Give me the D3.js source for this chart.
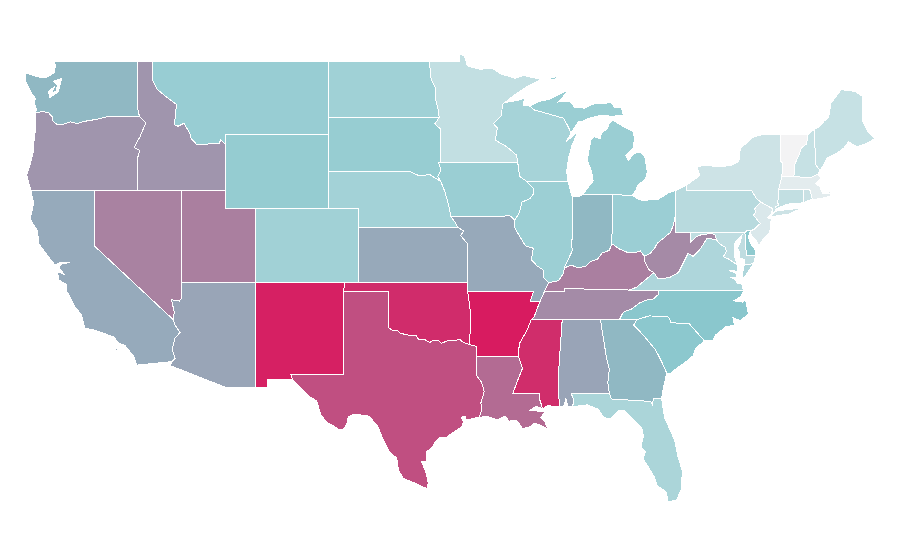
<!DOCTYPE html>
<html>
<head>
<meta charset="utf-8">
<script src="https://cdn.jsdelivr.net/npm/d3@7"></script>
<style>html,body{margin:0;padding:0;background:#fff}svg{display:block}</style>
</head>
<body>
<svg id="map" width="900" height="560"></svg>
<script>
// state values (low = pale, middle = teal, high = crimson)
const stateCodes = ["WA","OR","CA","NV","ID","MT","UT","WY","AZ","CO","NM","ND","SD","NE","KS","OK","TX","MN","IA","MO","AR","LA","MS","AL","GA","FL","SC","NC","TN","KY","VA","WV","OH","IN","IL","WI","MI","PA","NJ","DE","MD","NY","CT","RI","MA","VT","NH","ME"];
const stateValues = [54.4,64.5,58.4,70,64.5,42.9,71,44.3,60,38.7,98.5,39,43.4,37.7,58.7,95,85,23,42,58.7,100,76.7,94.8,60.2,54.4,34,48.6,49.5,67.4,70.8,32.5,67.7,41.5,54.4,41,36.3,42,28,12,47,24.5,18,23,20,7.5,0,21,21];
const colorStops = [0,50,100];
const colorRange = ["#f3f3f4","#89c7cd","#d81b60"];

// shared borders, as "lon,lat" lists
const borders = {
wa_coast:"-122.76,49 -122.62,48.75 -122.72,48.35 -123.25,48.12 -123.7,48.12 -124.7,48.36 -124.65,47.9 -124.25,47.25 -124.0,46.98 -124.05,46.7 -123.9,46.35 -124,46.2",
wa_n:"-122.76,49 -117.04,49",
wa_id:"-117.04,49 -117.04,46.4 -116.92,46",
wa_or:"-124,46.2 -123.5,46.26 -123.1,46.2 -122.86,46 -122.8,45.75 -122.55,45.58 -122.1,45.57 -121.6,45.7 -121.15,45.62 -120.6,45.74 -120,45.82 -119.4,45.92 -119.05,46 -116.92,46",
or_coast:"-124,46.2 -123.95,45.5 -124.07,44.8 -124.15,44 -124.35,43.4 -124.58,42.83 -124.3,42",
or_ca:"-124.3,42 -120,42",
or_nv:"-120,42 -117.03,42",
or_id:"-116.92,46 -116.48,45.65 -116.7,45.25 -116.88,44.9 -117.2,44.45 -117.27,44.3 -116.95,44.2 -116.93,44.05 -117.03,43.8 -117.03,42",
ca_coast:"-124.3,42 -124.1,41.3 -124.35,40.45 -123.85,39.8 -123.75,39.1 -123.1,38.4 -122.65,37.95 -122.3,38.1 -121.65,38.1 -122.2,38.0 -122.4,37.85 -122.05,37.45 -122.5,37.6 -122.4,37.15 -121.9,36.9 -121.9,36.6 -121.3,35.7 -120.85,35.25 -120.65,34.55 -120.1,34.45 -119.3,34.25 -118.6,34.03 -118.4,33.75 -117.9,33.6 -117.3,33 -117.12,32.53",
ca_s:"-117.12,32.53 -114.73,32.72",
ca_nv:"-120,42 -120,39 -114.63,35",
ca_az:"-114.63,35 -114.5,34.7 -114.16,34.3 -114.5,34 -114.7,33.4 -114.5,32.9 -114.73,32.72",
nv_id:"-117.03,42 -114.04,42",
nv_ut:"-114.04,42 -114.04,37",
nv_az:"-114.04,37 -114.04,36.2 -114.2,36 -114.75,36.08 -114.55,35.4 -114.63,35",
id_ut:"-114.04,42 -111.05,42",
id_wy:"-111.05,44.48 -111.05,42",
id_mt:"-116.05,49 -116.05,48 -115.7,47.45 -115.0,47 -114.4,46.65 -114.5,45.9 -114.55,45.56 -114.3,45.47 -113.9,45.63 -113.5,45.1 -113.4,44.8 -113.0,44.45 -112.35,44.5 -111.5,44.55 -111.4,44.72 -111.05,44.48",
id_n:"-117.04,49 -116.05,49",
mt_n:"-116.05,49 -104.05,49",
mt_wy:"-111.05,44.48 -111.05,45 -104.05,45",
mt_nd:"-104.05,49 -104.05,45.94",
mt_sd:"-104.05,45.94 -104.05,45",
ut_wy:"-111.05,42 -111.05,41 -109.05,41",
ut_co:"-109.05,41 -109.05,37",
ut_az:"-114.04,37 -109.05,37",
wy_co:"-109.05,41 -104.05,41",
wy_sd:"-104.05,45 -104.05,43",
wy_ne:"-104.05,43 -104.05,41",
co_ne:"-104.05,41 -102.05,41 -102.05,40",
co_ks:"-102.05,40 -102.05,37",
co_ok:"-102.05,37 -103,37",
co_nm:"-103,37 -109.05,37",
az_nm:"-109.05,37 -109.05,31.33",
az_s:"-114.73,32.72 -114.8,32.5 -111.07,31.33 -109.05,31.33",
nm_s:"-109.05,31.33 -108.21,31.33 -108.21,31.78 -106.53,31.78",
nm_tx:"-106.53,31.78 -106.62,32 -103.06,32 -103.04,36.5",
nm_ok:"-103.04,36.5 -103,37",
tx_ok:"-103.04,36.5 -100,36.5 -100,34.56 -99.7,34.4 -99.4,34.42 -99.2,34.27 -98.9,34.2 -98.6,34.15 -98.3,34.13 -98.1,34.13 -97.95,33.9 -97.5,33.9 -97.2,33.75 -97.0,33.87 -96.6,33.85 -96.4,33.72 -96.0,33.85 -95.5,33.87 -95.15,33.92 -94.9,33.75 -94.48,33.64",
tx_ar:"-94.48,33.64 -94.04,33.55 -94.04,33.02",
tx_la:"-94.04,33.02 -94.04,32 -93.67,31.6 -93.5,31.1 -93.72,30.5 -93.7,30.05 -93.85,29.7",
tx_rio:"-106.53,31.78 -106.2,31.47 -105.4,30.85 -104.88,30.6 -104.6,29.85 -104.2,29.45 -103.8,29.27 -103.3,29.02 -103.1,29.05 -102.85,29.3 -102.73,29.74 -102.3,29.88 -101.37,29.78 -100.9,29.4 -100.69,29.15 -100.35,28.48 -99.9,27.8 -99.44,27.5 -99.33,26.85 -99,26.4 -98.08,26.1 -97.4,25.85 -97.3,26.15 -97.42,26.6 -97.52,26.85 -97.75,27.3 -97.4,27.35 -97.4,27.85 -97,28.1 -96.8,28.4 -96.5,28.62 -96.1,28.6 -95.85,28.75 -95.03,29.2 -94.92,29.47 -95.05,29.72 -94.8,29.75 -94.7,29.55 -94.1,29.68 -93.85,29.7",
ks_ok:"-102.05,37 -94.62,37",
ks_ne:"-102.05,40 -95.31,40",
ks_mo:"-95.31,40 -94.88,39.8 -95.1,39.55 -94.9,39.35 -94.6,39.1 -94.62,37",
ne_sd:"-104.05,43 -98.5,43 -97.9,42.78 -97.2,42.85 -96.7,42.6 -96.45,42.49",
ne_ia:"-96.45,42.49 -96.16,41.9 -95.95,41.3 -95.84,40.9 -95.77,40.58",
ne_mo:"-95.77,40.58 -95.45,40.25 -95.31,40",
nd_sd:"-104.05,45.94 -96.56,45.94",
nd_n:"-104.05,49 -97.23,49",
nd_mn:"-97.23,49 -97.1,48 -96.84,47.6 -96.8,46.9 -96.6,46.3 -96.56,45.94",
sd_mn:"-96.56,45.94 -96.85,45.6 -96.45,45.3 -96.45,43.5",
sd_ia:"-96.45,43.5 -96.6,43.5 -96.45,43.1 -96.65,42.75 -96.45,42.49",
mn_ia:"-96.45,43.5 -91.22,43.5",
mn_wi:"-91.22,43.5 -91.3,43.9 -91.97,44.36 -92.75,44.72 -92.6,45.37 -92.88,45.62 -92.3,46.08 -92.28,46.65 -92.1,46.75",
mn_coast:"-97.23,49 -95.15,49 -95.15,49.36 -94.85,49.3 -94.65,48.74 -93.8,48.55 -92.95,48.62 -92.4,48.3 -91.4,48.07 -90.85,48.22 -89.6,48 -90.4,47.7 -91.3,47.25 -92.1,46.75",
ia_wi:"-91.22,43.5 -91.1,42.75 -90.64,42.5",
ia_il:"-90.64,42.5 -90.15,42.1 -90.15,41.8 -90.4,41.55 -90.95,41.35 -91.1,40.8 -91.42,40.38",
ia_mo:"-95.77,40.58 -91.73,40.61 -91.42,40.38",
mo_il:"-91.42,40.38 -91.45,40 -91.07,39.49 -90.7,39 -90.16,38.86 -90.3,38.25 -89.9,37.9 -89.48,37.68 -89.5,37.3 -89.13,37",
mo_ky:"-89.13,37 -89.42,36.5",
mo_tn:"-89.42,36.5 -89.7,36",
mo_ar:"-89.7,36 -90.37,36 -90.15,36.5 -94.62,36.5",
mo_ok:"-94.62,37 -94.62,36.5",
ok_ar:"-94.62,36.5 -94.43,35.4 -94.48,33.64",
ar_la:"-94.04,33.02 -91.17,33",
ar_ms:"-90.3,35 -90.6,34.4 -91.07,33.75 -91.18,33.3 -91.17,33",
ar_tn:"-89.7,36 -89.95,35.5 -90.1,35.15 -90.3,35",
la_ms:"-91.17,33 -90.9,32.36 -91.3,31.56 -91.55,31 -89.73,31 -89.72,30.65 -89.53,30.18",
la_coast:"-93.85,29.7 -93.3,29.76 -92.6,29.56 -92.1,29.77 -91.8,29.5 -91.3,29.56 -90.9,29.1 -90.4,29.2 -90.05,29.4 -89.6,29.25 -89.15,29.05 -89.4,29.5 -89.65,29.7 -89.4,30 -89.9,30.05 -90.4,30.1 -89.95,30.3 -89.53,30.18",
ms_tn:"-90.3,35 -88.2,35",
tn_al:"-88.2,35 -85.6,34.98",
tn_ga:"-85.6,34.98 -84.32,34.99",
ms_al:"-88.2,35 -88.47,31.9 -88.4,30.3",
ms_coast:"-89.53,30.18 -89.2,30.33 -88.4,30.3",
al_coast:"-88.4,30.3 -88.1,30.3 -87.95,30.72 -87.8,30.3 -87.5,30.28",
al_fl:"-87.5,30.28 -87.4,30.65 -87.6,31 -85,31",
al_ga:"-85.6,34.98 -85.18,32.87 -85,32.3 -85.1,31.6 -85,31",
ga_fl:"-85,31 -84.86,30.7 -82.2,30.57 -82.05,30.36 -82.02,30.75 -81.45,30.72",
fl_coast:"-87.5,30.28 -86.5,30.38 -85.75,30.15 -85.35,29.68 -84.9,29.65 -84.35,30.08 -83.95,30.08 -83.4,29.6 -82.8,29.15 -82.68,28.7 -82.85,28.1 -82.55,27.85 -82.7,27.45 -82.3,26.95 -81.95,26.5 -81.75,26 -81.1,25.65 -81.05,25.15 -80.45,25.2 -80.12,25.8 -80.03,26.8 -80.35,27.6 -80.55,28.45 -81.25,29.7 -81.45,30.72",
ga_coast:"-81.1,32.1 -81.3,31.4 -81.45,30.72",
ga_sc:"-83.11,35 -83.35,34.7 -82.7,34.17 -81.85,33.35 -81.4,32.65 -81.1,32.1",
ga_nc:"-84.32,34.99 -83.11,35",
nc_tn:"-84.32,34.99 -84.05,35.4 -83.5,35.57 -82.95,35.9 -82.45,36.06 -82,36.12 -81.68,36.35 -81.68,36.59",
nc_sc:"-78.55,33.86 -79.6,34.8 -80.8,34.82 -80.95,35.1 -81.05,35.15 -82.3,35.2 -83.11,35",
sc_coast:"-78.55,33.86 -79.15,33.4 -79.3,33.05 -79.9,32.65 -80.45,32.35 -80.9,32.05 -81.1,32.1",
nc_coast:"-75.87,36.55 -76.05,36.25 -76.55,36.02 -75.95,35.95 -75.75,36.1 -75.55,35.3 -76.1,34.95 -76.6,35.1 -76.5,34.7 -77.1,34.6 -77.8,34.15 -77.95,33.87 -78.55,33.86",
nc_va:"-81.68,36.59 -75.87,36.55",
tn_va:"-81.68,36.59 -83.67,36.6",
tn_ky:"-83.67,36.6 -88.07,36.68 -88.07,36.5 -89.42,36.5",
ky_va:"-83.67,36.6 -83.15,36.75 -82.7,37.05 -81.97,37.54",
ky_wv:"-82.6,38.42 -82.6,38.15 -82.3,37.7 -81.97,37.54",
ky_oh:"-84.82,39.1 -84.3,38.82 -83.8,38.65 -83.3,38.62 -82.9,38.72 -82.6,38.42",
ky_in:"-88.05,37.8 -87.6,37.95 -87.1,37.8 -86.6,37.9 -86.3,38.13 -85.8,38.27 -85.5,38.6 -85,38.75 -84.82,39.1",
ky_il:"-89.13,37 -88.45,37.1 -88.12,37.5 -88.05,37.8",
il_in:"-87.53,41.7 -87.53,39.35 -87.6,39.1 -87.5,38.75 -87.95,38 -88.05,37.8",
il_wi:"-90.64,42.5 -87.8,42.5",
il_coast:"-87.8,42.5 -87.6,41.85 -87.53,41.7",
wi_mi:"-90.42,46.57 -90.1,46.35 -89.1,46.13 -88.1,45.9 -87.8,45.45 -87.6,45.1",
wi_sup:"-92.1,46.75 -91.2,46.87 -90.75,47 -90.85,46.6 -90.42,46.57",
wi_lake:"-87.6,45.1 -87.95,44.6 -87.1,45.25 -87.55,44.4 -87.75,43.8 -87.9,43 -87.8,42.5",
in_lake:"-87.53,41.7 -87.1,41.65 -86.8,41.76",
in_mi:"-86.8,41.76 -84.8,41.76",
in_oh:"-84.8,41.76 -84.82,39.1",
oh_mi:"-84.8,41.76 -83.45,41.73",
oh_lake:"-83.45,41.73 -83,41.5 -82.7,41.45 -82,41.5 -81.7,41.5 -81,41.85 -80.52,41.98",
oh_pa:"-80.52,41.98 -80.52,40.64",
oh_wv:"-80.52,40.64 -80.65,40.1 -80.85,39.72 -81.4,39.35 -81.74,39.14 -81.9,38.9 -82.2,38.6 -82.6,38.42",
pa_wv:"-80.52,40.64 -80.52,39.72 -79.48,39.72",
pa_md:"-79.48,39.72 -75.79,39.72",
pa_de:"-75.79,39.72 -75.6,39.84 -75.42,39.8",
pa_nj:"-75.42,39.8 -75.13,39.9 -74.75,40.2 -75.2,40.65 -75.05,40.85 -75.13,41 -74.7,41.36",
pa_ny:"-74.7,41.36 -75,41.55 -75.35,42 -79.76,42 -79.76,42.27",
pa_lake:"-79.76,42.27 -80.52,41.98",
wv_md:"-79.48,39.72 -79.48,39.2 -79.1,39.47 -78.75,39.6 -78.4,39.62 -78.2,39.68 -77.83,39.6 -77.72,39.32",
wv_va:"-77.72,39.32 -78.35,39.4 -78.87,38.77 -79.3,38.42 -79.65,38.58 -80.3,37.55 -80.85,37.3 -81.3,37.23 -81.68,37.2 -81.97,37.54",
va_md:"-77.72,39.32 -77.5,39.1 -77.1,38.9 -77.05,38.7 -77.25,38.4 -76.9,38.28 -76.3,37.95",
va_coast:"-75.87,36.55 -76,36.92 -76.3,36.95 -76.45,37.15 -76.75,37.3 -76.35,37.25 -76.35,37.5 -76.85,37.65 -76.3,37.62 -76.3,37.95",
md_de:"-75.79,39.72 -75.69,38.46 -75.05,38.45",
md_rest:"-75.05,38.45 -75.2,38.03 -75.62,37.98 -75.85,37.95 -75.85,38.25 -76.2,38.35 -76.12,38.6 -76.3,38.85 -76.1,39.2 -76,39.55 -76.45,39.2 -76.5,38.85 -76.5,38.45 -76.35,38.1 -76.3,37.95",
de_coast:"-75.42,39.8 -75.55,39.5 -75.4,39.1 -75.1,38.8 -75.05,38.45",
nj_coast:"-75.42,39.8 -75.35,39.55 -75,39.25 -74.85,39 -74.6,39.3 -74.1,39.75 -74,40.45 -74.25,40.5 -74,40.72 -73.9,41",
nj_ny:"-74.7,41.36 -73.9,41",
ny_city:"-73.9,41 -73.95,40.75 -73.8,40.8 -73.65,41",
ct_ny:"-73.65,41 -73.73,41.1 -73.48,41.21 -73.55,41.3 -73.5,42.05",
ma_ny:"-73.5,42.05 -73.27,42.75",
vt_ny:"-73.27,42.75 -73.25,43.5 -73.4,43.6 -73.35,44.5 -73.34,45.01",
ny_n:"-73.34,45.01 -74.7,45 -75.3,44.85 -76.1,44.25 -76.2,43.55 -76.7,43.35 -77.6,43.27 -78.5,43.37 -79.05,43.27 -78.85,42.8 -79.76,42.27",
ct_ma:"-73.5,42.05 -72.8,42.03 -71.8,42.02",
ct_ri:"-71.8,42.02 -71.79,41.6 -71.85,41.32",
ct_coast:"-71.85,41.32 -72.9,41.25 -73.65,41",
ri_ma:"-71.8,42.02 -71.38,42.02 -71.33,41.9 -71.2,41.5",
ri_coast:"-71.2,41.5 -71.45,41.45 -71.85,41.32",
ma_coast:"-71.2,41.5 -70.65,41.55 -70,41.67 -69.95,41.85 -70.2,42.08 -70.05,41.8 -70.5,41.8 -70.7,42.2 -71,42.35 -70.6,42.65 -70.82,42.87",
ma_nh:"-70.82,42.87 -71.3,42.7 -72.46,42.73",
ma_vt:"-72.46,42.73 -73.27,42.75",
vt_nh:"-72.46,42.73 -72.4,43.4 -72.1,43.95 -71.95,44.3 -71.6,44.5 -71.5,45.01",
vt_n:"-71.5,45.01 -73.34,45.01",
nh_coast:"-70.82,42.87 -70.7,43.07",
nh_me:"-70.7,43.07 -70.98,43.4 -71.08,45.3",
nh_n:"-71.08,45.3 -71.5,45.01",
me_rest:"-70.7,43.07 -70.45,43.35 -70.22,43.75 -69.55,44 -69.05,44.3 -68.75,44.63 -68.2,44.36 -67.6,44.5 -66.95,44.8 -67.45,45.2 -67.78,45.7 -67.78,47.07 -68.3,47.35 -69.05,47.43 -69.25,47.45 -69.95,46.7 -70.1,45.95 -70.4,45.75 -70.8,45.4 -71.08,45.3",
up_coast:"-90.42,46.57 -89.8,46.8 -89,46.95 -88.5,47.15 -87.78,47.45 -88.2,47.0 -88.45,46.78 -87.7,46.82 -87.33,46.48 -86.7,46.45 -86.1,46.67 -85.2,46.72 -84.9,46.75 -84.6,46.47 -84.2,46.5 -84.05,46.08 -84.85,46.0 -85.5,46.08 -86.3,45.92 -86.9,45.72 -87.1,45.7 -87.6,45.1",
mi_lp:"-83.45,41.73 -83.15,42.05 -83.1,42.25 -82.55,42.6 -82.42,43 -82.6,43.85 -82.95,44.07 -83.3,44 -83.7,43.62 -83.9,43.9 -83.35,44.3 -83.3,44.85 -83.4,45.2 -84.1,45.48 -84.75,45.78 -85.05,45.6 -85.1,45.35 -85.55,45.1 -85.6,44.8 -86.05,44.9 -86.25,44.7 -86.5,43.65 -86.2,43 -86.1,42.5 -86.5,42.1 -86.8,41.76"
};
// detached pieces and inner waters
const islandsMI = ["-89.25,48.0 -88.45,48.2 -88.7,47.97"];
const islandsNY = ["-74,40.6 -73.75,40.6 -72.75,40.72 -71.9,41.05 -72.6,40.98 -73.2,40.93 -73.7,40.87 -74,40.6"];
const islandsVA = ["-75.97,37.15 -75.65,37.5 -75.2,38.03 -75.62,37.98 -75.85,37.95 -75.95,37.5 -75.97,37.15"];
const islandsCA = ["-120.2,34.02 -119.95,34.06 -119.95,33.95", "-118.6,33.45 -118.35,33.4 -118.5,33.32"];
const pugetSound = "-122.2,48.06 -122.32,47.7 -122.43,47.34 -122.75,47.15 -123,47.03 -123.1,47.34 -122.68,47.62 -122.85,47.3 -122.55,47.35 -122.5,47.72 -122.78,47.9 -122.2,48.06";

// rings of every state, built from the shared borders ("-" walks one backwards)
const stateRings = {
WA:"wa_n wa_id -wa_or -wa_coast",
OR:"wa_or or_id -or_nv -or_ca -or_coast",
CA:"or_ca ca_nv ca_az -ca_s -ca_coast",
NV:"or_nv nv_id nv_ut nv_az -ca_nv",
ID:"id_n id_mt id_wy -id_ut -nv_id -or_id -wa_id",
MT:"mt_n mt_nd mt_sd -mt_wy -id_mt",
UT:"id_ut ut_wy ut_co -ut_az -nv_ut",
WY:"mt_wy wy_sd wy_ne -wy_co -ut_wy -id_wy",
AZ:"ut_az az_nm -az_s -ca_az -nv_az",
CO:"wy_co co_ne co_ks co_ok co_nm -ut_co",
NM:"-co_nm -nm_ok -nm_tx -nm_s -az_nm",
ND:"nd_n nd_mn -nd_sd -mt_nd",
SD:"nd_sd sd_mn sd_ia -ne_sd -wy_sd -mt_sd",
NE:"ne_sd ne_ia ne_mo -ks_ne -co_ne -wy_ne",
KS:"ks_ne ks_mo -ks_ok -co_ks",
OK:"-co_ok ks_ok mo_ok ok_ar -tx_ok nm_ok",
TX:"tx_rio -tx_la -tx_ar -tx_ok -nm_tx",
MN:"mn_coast -mn_wi -mn_ia -sd_mn -nd_mn",
IA:"mn_ia ia_wi ia_il -ia_mo -ne_ia -sd_ia",
MO:"ia_mo mo_il mo_ky mo_tn mo_ar -mo_ok -ks_mo -ne_mo",
AR:"-mo_ar ar_tn ar_ms -ar_la -tx_ar -ok_ar",
LA:"ar_la la_ms -la_coast -tx_la",
MS:"ms_tn ms_al -ms_coast -la_ms -ar_ms",
AL:"tn_al al_ga -al_fl -al_coast -ms_al",
GA:"tn_ga ga_nc ga_sc ga_coast -ga_fl -al_ga",
FL:"al_fl ga_fl -fl_coast",
SC:"nc_sc ga_sc -sc_coast",
NC:"nc_va nc_coast nc_sc -ga_nc nc_tn",
TN:"-tn_ky -tn_va -nc_tn -tn_ga -tn_al -ms_tn -ar_tn -mo_tn",
KY:"tn_ky -mo_ky ky_il ky_in ky_oh ky_wv -ky_va",
VA:"nc_va va_coast -va_md wv_va -ky_va -tn_va",
WV:"oh_wv ky_wv -wv_va -wv_md -pa_wv",
OH:"oh_mi oh_lake oh_pa oh_wv -ky_oh -in_oh",
IN:"in_lake in_mi in_oh -ky_in -il_in",
IL:"il_wi il_coast il_in -ky_il -mo_il -ia_il",
WI:"mn_wi wi_sup wi_mi wi_lake -il_wi -ia_wi",
MI:"-wi_mi up_coast|in_mi oh_mi mi_lp",
PA:"pa_lake oh_pa pa_wv pa_md pa_de pa_nj pa_ny",
NJ:"-pa_nj nj_coast -nj_ny",
DE:"pa_de de_coast -md_de",
MD:"pa_md md_de md_rest -va_md -wv_md",
NY:"-pa_ny nj_ny ny_city ct_ny ma_ny vt_ny ny_n",
CT:"ct_ny ct_ma ct_ri ct_coast",
RI:"ri_ma ri_coast -ct_ri",
MA:"ct_ma ri_ma ma_coast ma_nh ma_vt -ma_ny",
VT:"-ma_vt vt_nh vt_n -vt_ny",
NH:"-ma_nh nh_coast nh_me nh_n -vt_nh",
ME:"-nh_me me_rest"
};
const extraPieces = {MI:islandsMI, NY:islandsNY, VA:islandsVA, CA:islandsCA};
const innerWaters = {WA:pugetSound};

const parse = s => s.trim().split(/\s+/).map(p => p.split(",").map(Number));
const walk = name => name[0]==="-" ? parse(borders[name.slice(1)]).reverse() : parse(borders[name]);
const buildRing = spec => {
  const pts = [];
  spec.split(" ").forEach(n => pts.push(...walk(n)));
  pts.push(pts[0]);
  return pts;
};

const features = stateCodes.map((code,i) => {
  const polys = stateRings[code].split("|").map(s => [buildRing(s)]);
  if (innerWaters[code]) polys[0].push(parse(innerWaters[code]));
  (extraPieces[code]||[]).forEach(s => { const r = parse(s); r.push(r[0]); polys.push([r]); });
  return {type:"Feature", id:code, properties:{value:stateValues[i]}, geometry:{type:"MultiPolygon", coordinates:polys}};
});

const x = d3.scaleLinear().domain([-109.05,-102.05]).range([255.3,358.34]);
const y = d3.scaleLinear().domain([49,37]).range([61,282.64]);
const color = d3.scaleLinear().domain(colorStops).range(colorRange);
const projection = d3.geoTransform({point(lon,lat){ this.stream.point(x(lon), y(lat)); }});
const path = d3.geoPath(projection);

d3.select("#map").selectAll("path").data(features).join("path")
  .attr("d", path)
  .attr("fill", d => color(d.properties.value))
  .attr("fill-rule", "evenodd")
  .attr("stroke", "#fff")
  .attr("stroke-width", 1)
  .attr("shape-rendering", "crispEdges");
</script>
</body>
</html>
